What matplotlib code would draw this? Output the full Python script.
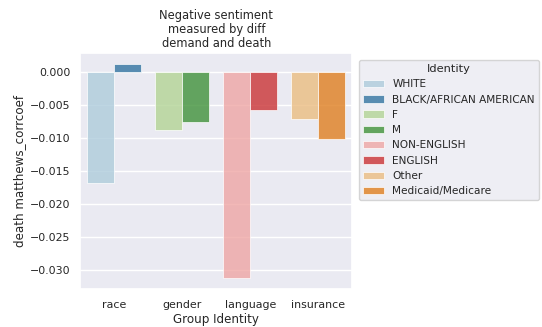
import numpy as np
import matplotlib
matplotlib.use("Agg")
import matplotlib.pyplot as plt
import seaborn as sns

# data
groups = ["race", "gender", "language", "insurance"]
identities = ["WHITE", "BLACK/AFRICAN AMERICAN", "F", "M",
              "NON-ENGLISH", "ENGLISH", "Other", "Medicaid/Medicare"]
values = [-0.0168, 0.0012, -0.0088, -0.0076,
          -0.0313, -0.0058, -0.0072, -0.0102]

sns.set_theme(style="darkgrid")
palette = [sns.desaturate(c, 0.75) for c in sns.color_palette("Paired", 8)]

fig = plt.figure(figsize=(5.42, 3.27), dpi=100)
ax = fig.add_axes([0.148, 0.116, 0.502, 0.721])

width = 0.4
for i, (name, val) in enumerate(zip(identities, values)):
    g = i // 2
    off = -width / 2 if i % 2 == 0 else width / 2
    ax.bar(g + off, val, width=width, color=palette[i], alpha=0.8,
           edgecolor="white", linewidth=0.6, label=name)

ax.set_xticks(range(len(groups)))
ax.set_xticklabels(groups)
ax.set_xlim(-0.5, len(groups) - 0.5)
ax.xaxis.grid(False)
ax.tick_params(labelsize=7.9, length=0)
ax.tick_params(axis="y", pad=7)
ax.tick_params(axis="x", pad=8)
ax.set_xlabel("Group Identity", fontsize=8.6, labelpad=2)
ax.set_ylabel("death matthews_corrcoef", fontsize=8.6, labelpad=3)
ax.set_title("Negative sentiment\nmeasured by diff\ndemand and death",
             fontsize=8.3, pad=4.5, linespacing=1.12)

leg = ax.legend(title="Identity", loc="upper left", bbox_to_anchor=(1.004, 0.995),
                fontsize=7.6, title_fontsize=8.2)

fig.savefig("out.png", dpi=100)
